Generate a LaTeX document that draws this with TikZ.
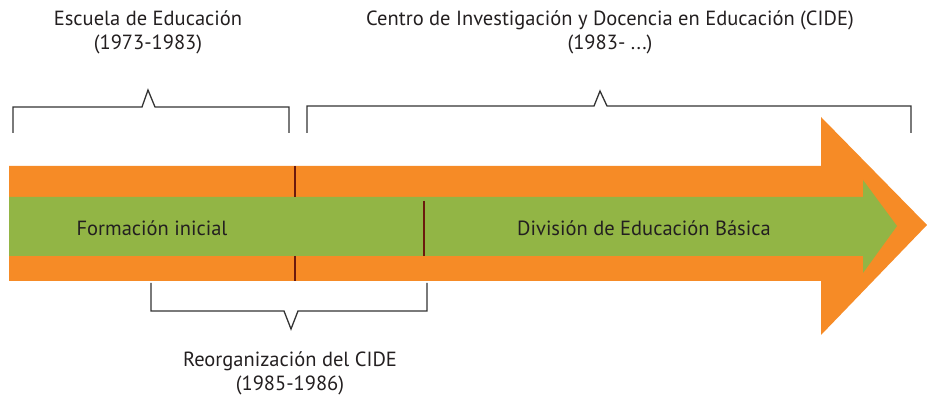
\documentclass[tikz,border=0pt]{standalone}
\usepackage{fontspec}
\setmainfont{PT Sans}
\definecolor{orng}{HTML}{F68B26}
\definecolor{grn}{HTML}{92B545}
\definecolor{divc}{HTML}{6B1A0E}
\definecolor{brk}{HTML}{333333}
\definecolor{txt}{HTML}{231F20}
\begin{document}
\begin{tikzpicture}[x=1pt,y=-1pt,
  lbl/.style={font=\fontsize{20.5}{24}\selectfont, text=txt, align=center, inner sep=0pt},
  brack/.style={draw=brk, line width=1.3pt},
  divider/.style={draw=divc, line width=1.6pt}]
\useasboundingbox (0,0) rectangle (927,395);
% orange arrow
\fill[orng] (9,166) -- (821,166) -- (821,117) -- (927,225) -- (821,335) -- (821,281) -- (9,281) -- cycle;
% green arrow
\fill[grn] (9,197) -- (863,197) -- (863,180) -- (897,226) -- (863,273) -- (863,256) -- (9,256) -- cycle;
% dividers
\coordinate (d1a) at (295,166); \coordinate (d1b) at (295,197);
\coordinate (d1c) at (295,256); \coordinate (d1d) at (295,281);
\coordinate (d2a) at (424,201); \coordinate (d2b) at (424,256);
\draw[divider] (d1a) -- (d1b);
\draw[divider] (d1c) -- (d1d);
\draw[divider] (d2a) -- (d2b);
% brackets
\draw[brack] (13,133) -- (13,107) -- (142,107) -- (148,90) -- (155,107) -- (289,107) -- (289,133);
\draw[brack] (307,133) -- (307,106) -- (594,106) -- (600,91) -- (607,106) -- (911,106) -- (911,133);
\draw[brack] (151,283) -- (151,311) -- (284,311) -- (291,329) -- (298,311) -- (427,311) -- (427,283);
% labels
\node[lbl] (esc) at (148,32) {Escuela de Educación\\(1973-1983)};
\node[lbl] (cide) at (610,32) {Centro de Investigación y Docencia en Educación (CIDE)\\(1983- ...)};
\node[lbl] (form) at (152,228) {Formación inicial};
\node[lbl] (div) at (644,228) {División de Educación Básica};
\node[lbl] (reo) at (290,373) {Reorganización del CIDE\\(1985-1986)};
\end{tikzpicture}
\end{document}
